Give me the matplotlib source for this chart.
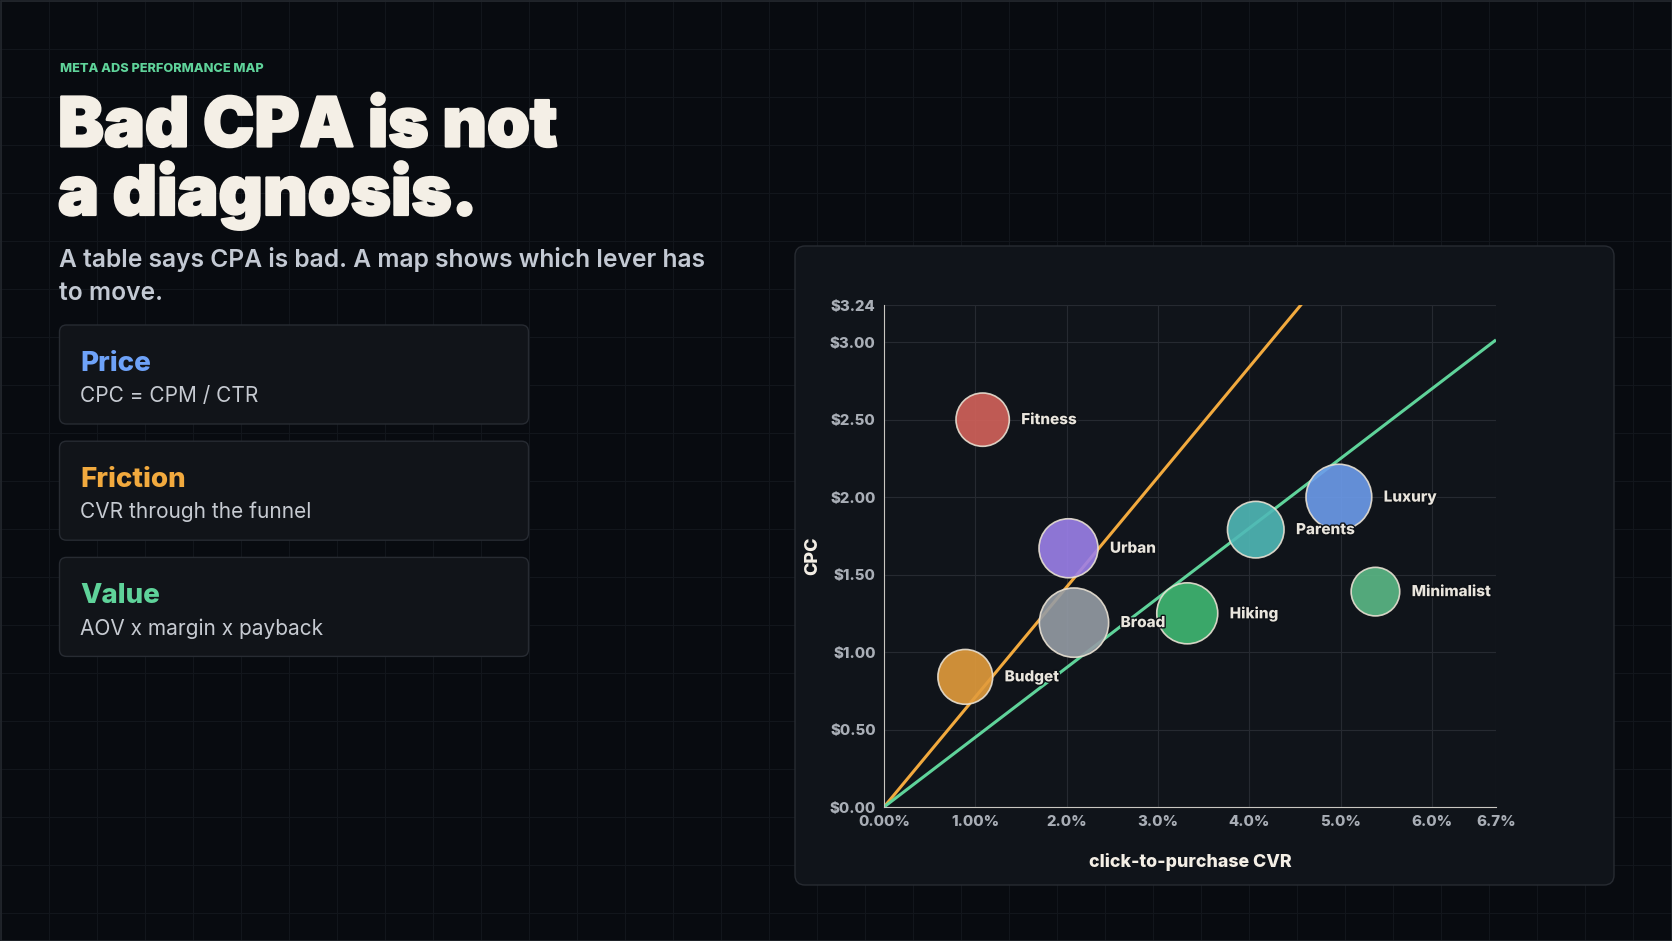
#!/usr/bin/python3
'''
Abstract:
    Meta ads performance map: CPC vs click-to-purchase CVR, bubbles by segment,
    two iso-CPA lines through the origin.
Usage:
    python3 plot.py  ->  out.png
'''
import numpy as np
import matplotlib
matplotlib.use("Agg")
import matplotlib.pyplot as plt
from matplotlib.patches import FancyBboxPatch, Rectangle
import matplotlib.patheffects as pe

#--------------------------------------------
# data
segments = ["Fitness", "Urban", "Broad", "Hiking", "Parents", "Luxury", "Minimalist", "Budget"]
cvr = [1.08, 2.02, 2.08, 3.32, 4.07, 4.98, 5.38, 0.89]          # click-to-purchase CVR, %
cpc = [2.50, 1.67, 1.19, 1.25, 1.79, 2.00, 1.39, 0.84]          # $
spend = [7.1, 8.7, 12.0, 9.3, 8.0, 10.8, 5.9, 7.5]              # bubble size, $k
seg_colors = ["#d3625b", "#9c80ea", "#959ca5", "#3fb872", "#50b9b7",
              "#6d9cec", "#5bb986", "#e39c3c"]

cpa_lines = [71, 45]                                            # iso-CPA, $
cpa_colors = ["#f2aa3e", "#5fd39a"]

x_ticks = [0, 1, 2, 3, 4, 5, 6, 6.7]
x_ticklabels = ["0.00%", "1.00%", "2.0%", "3.0%", "4.0%", "5.0%", "6.0%", "6.7%"]
y_ticks = [0, 0.5, 1.0, 1.5, 2.0, 2.5, 3.0, 3.24]
y_ticklabels = ["$0.00", "$0.50", "$1.00", "$1.50", "$2.00", "$2.50", "$3.00", "$3.24"]

levers = ["Price", "Friction", "Value"]
lever_text = ["CPC = CPM / CTR", "CVR through the funnel", "AOV x margin x payback"]
lever_colors = ["#6ea2f8", "#f2aa3e", "#5fd39a"]

#--------------------------------------------
# main code
if __name__ == "__main__":
    W, H = 1672, 941
    BG = "#080b10"
    PANEL = "#10141a"
    EDGE = "#272b32"
    FONT = ["Inter", "DejaVu Sans"]
    plt.rcParams["font.family"] = FONT

    fig = plt.figure(figsize=(W / 100, H / 100), dpi=100, facecolor=BG)

    # background layer in pixel coordinates (y down)
    bg = fig.add_axes([0, 0, 1, 1], zorder=0)
    bg.set_xlim(0, W)
    bg.set_ylim(H, 0)
    bg.axis("off")
    for gx in np.arange(1, W, 48):
        bg.axvline(gx, color="#12161c", lw=0.75, zorder=0)
    for gy in np.arange(1, H, 48):
        bg.axhline(gy, color="#12161c", lw=0.75, zorder=0)
    bg.add_patch(Rectangle((0.5, 0.5), W - 1, H - 1, fill=False, ec="#23272d", lw=1.2, zorder=1))

    # chart panel
    bg.add_patch(FancyBboxPatch((795, 246), 819, 639,
                                boxstyle="round,pad=0,rounding_size=10",
                                fc=PANEL, ec=EDGE, lw=1.0, zorder=2))

    # left column text
    thick = [pe.withStroke(linewidth=1.6, foreground="#f4efe6")]
    bg.text(60, 71.5, "META ADS PERFORMANCE MAP", color="#5fd39a", fontsize=9.2,
            fontweight="heavy", va="baseline", zorder=3)
    bg.text(58, 146.5, "Bad CPA is not", color="#f4efe6", fontsize=49.5,
            fontweight="black", va="baseline", zorder=3, path_effects=thick)
    bg.text(58, 215, "a diagnosis.", color="#f4efe6", fontsize=49.5,
            fontweight="black", va="baseline", zorder=3, path_effects=thick)
    bg.text(59, 266.5, "A table says CPA is bad. A map shows which lever has",
            color="#c3c9d3", fontsize=17.7, fontweight="semibold", va="baseline", zorder=3)
    bg.text(59, 300, "to move.", color="#c3c9d3", fontsize=17.7,
            fontweight="semibold", va="baseline", zorder=3)

    # lever cards
    for i in range(3):
        top = 325 + i * 116.2
        bg.add_patch(FancyBboxPatch((59.5, top), 469, 99,
                                    boxstyle="round,pad=0,rounding_size=7",
                                    fc="#111419", ec=EDGE, lw=1.0, zorder=2))
        bg.text(80, top + 46, levers[i], color=lever_colors[i], fontsize=20,
                fontweight="heavy", va="baseline", zorder=3)
        bg.text(80, top + 77.3, lever_text[i], color="#c6cad1", fontsize=15,
                va="baseline", zorder=3)

    #-----------------------------------
    # scatter chart
    ax = fig.add_axes([884 / W, 1 - 807 / H, 612 / W, 502 / H], zorder=5)
    ax.set_facecolor(PANEL)
    ax.set_xlim(0, 6.7)
    ax.set_ylim(0, 3.24)

    xs = np.linspace(0, 6.7, 200)
    for cpa, c in zip(cpa_lines, cpa_colors):
        ax.plot(xs, cpa * xs / 100, color=c, lw=2.2, zorder=2, solid_capstyle="butt")

    sizes = np.array(spend) * 207.4
    ax.scatter(cvr, cpc, s=sizes, c=seg_colors, alpha=0.9, edgecolors="#e9e1d3",
               linewidths=1.2, zorder=3)
    halo = [pe.withStroke(linewidth=2.0, foreground="#0d1015")]
    for name, x, y, s in zip(segments, cvr, cpc, sizes):
        r_pt = np.sqrt(s) / 2
        ax.annotate(name, (x, y), xytext=(r_pt + 8.6, 0), textcoords="offset points",
                    ha="left", va="center", color="#e9e5dd", fontsize=11,
                    fontweight="heavy", zorder=4, path_effects=halo)

    ax.set_xticks(x_ticks)
    ax.set_xticklabels(x_ticklabels)
    ax.set_yticks(y_ticks)
    ax.set_yticklabels(y_ticklabels)
    ax.tick_params(length=0, colors="#a9aeb6", labelsize=10.8, pad=6)
    for lab in ax.get_xticklabels() + ax.get_yticklabels():
        lab.set_fontweight("heavy")
    ax.grid(True, color="#262a31", lw=0.8, zorder=0)
    ax.set_axisbelow(True)
    for side in ["top", "right"]:
        ax.spines[side].set_visible(False)
    for side in ["left", "bottom"]:
        ax.spines[side].set_color("#c9c7c1")
        ax.spines[side].set_linewidth(0.8)

    ax.set_xlabel("click-to-purchase CVR", color="#f4efe6", fontsize=12.8, fontweight="heavy")
    ax.xaxis.set_label_coords(0.5, -0.092)
    ax.set_ylabel("CPC", color="#f4efe6", fontsize=13, fontweight="heavy", va="center")
    ax.yaxis.set_label_coords(-0.116, 0.5)

    fig.savefig("out.png", dpi=100, facecolor=BG)
